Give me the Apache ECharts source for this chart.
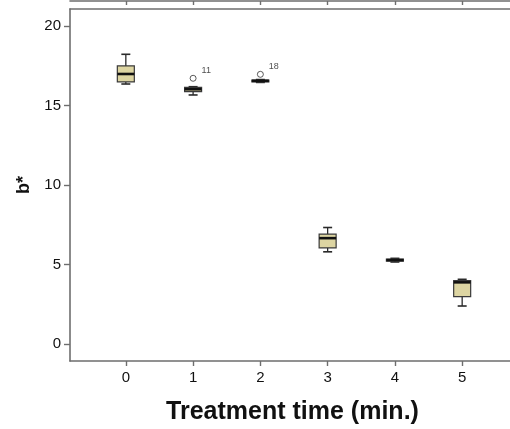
<!DOCTYPE html>
<html><head><meta charset="utf-8">
<script src="https://cdn.jsdelivr.net/npm/echarts@6/dist/echarts.min.js"></script>
<style>html,body{margin:0;padding:0;background:#fff}#c{width:510px;height:429px}</style>
</head><body><div id="c"></div>
<script>
var categories = [0, 1, 2, 3, 4, 5];
var mins    = [16.35, 15.66, 16.45, 5.79, 5.15, 2.38];
var q1s     = [16.48, 15.87, 16.49, 6.04, 5.21, 2.97];
var medians = [16.98, 16.02, 16.55, 6.65, 5.27, 3.87];
var q3s     = [17.49, 16.14, 16.60, 6.90, 5.33, 3.98];
var maxs    = [18.22, 16.18, 16.63, 7.32, 5.38, 4.06];
var outlierX = [1, 2];
var outlierY = [16.71, 16.96];
var outlierLabels = ['11', '18'];
var yTicks = [0, 5, 10, 15, 20];

var boxData = categories.map(function (c, i) {
  return [c, mins[i], q1s[i], medians[i], q3s[i], maxs[i]];
});
var outData = outlierX.map(function (x, i) { return [x, outlierY[i], outlierLabels[i]]; });

var chart = echarts.init(document.getElementById('c'), null, {renderer: 'canvas'});
var axisCol = '#6e6e6e';
var txtCol = '#111';
chart.setOption({
  animation: false,
  grid: {left: 70, top: 9, width: 448, height: 352, containLabel: false, outerBoundsMode: 'none'},
  xAxis: [{
    type: 'value', min: -0.83, max: 5.83, position: 'bottom',
    splitLine: {show: false},
    axisLine: {show: true, onZero: false, lineStyle: {color: axisCol, width: 1.6}},
    axisTick: {show: true, customValues: categories, length: 5, lineStyle: {color: axisCol, width: 1.4}},
    axisLabel: {customValues: categories, color: txtCol, fontSize: 15, fontFamily: 'Liberation Sans, Arial', margin: 9},
    name: 'Treatment time (min.)', nameLocation: 'middle', nameGap: 39,
    nameTextStyle: {fontSize: 25, fontWeight: 'bold', color: '#111', fontFamily: 'Liberation Sans, Arial', padding: [0, 3, 0, 0]}
  }, {
    type: 'value', min: -0.83, max: 5.83, position: 'top',
    splitLine: {show: false},
    axisLine: {show: true, onZero: false, lineStyle: {color: axisCol, width: 1.6}},
    axisTick: {show: false}, axisLabel: {show: false}
  }, {
    type: 'value', min: -0.83, max: 5.83, position: 'top', offset: 8,
    splitLine: {show: false},
    axisLine: {show: true, onZero: false, lineStyle: {color: axisCol, width: 1.6}},
    axisTick: {show: true, inside: true, customValues: categories, length: 4, lineStyle: {color: axisCol, width: 1.4}},
    axisLabel: {show: false}
  }],
  yAxis: [{
    type: 'value', min: -1.08, max: 21.07,
    splitLine: {show: false},
    axisLine: {show: true, onZero: false, lineStyle: {color: axisCol, width: 1.6}},
    axisTick: {show: true, customValues: yTicks, length: 6, lineStyle: {color: axisCol, width: 1.4}},
    axisLabel: {customValues: yTicks, color: txtCol, fontSize: 15, fontFamily: 'Liberation Sans, Arial', margin: 9},
    name: 'b*', nameLocation: 'middle', nameGap: 33, nameRotate: 90,
    nameTextStyle: {fontSize: 18, fontWeight: 'bold', color: '#111', fontFamily: 'Liberation Sans, Arial'}
  }],
  series: [{
    type: 'custom',
    xAxisIndex: 0, yAxisIndex: 0,
    data: boxData,
    renderItem: function (params, api) {
      var x = api.value(0);
      var pMin = api.coord([x, api.value(1)]);
      var pQ1 = api.coord([x, api.value(2)]);
      var pMed = api.coord([x, api.value(3)]);
      var pQ3 = api.coord([x, api.value(4)]);
      var pMax = api.coord([x, api.value(5)]);
      var cx = pMed[0], bw = 17, cw = 9;
      var stroke = {stroke: '#2a2a2a', lineWidth: 1.3};
      return {
        type: 'group',
        children: [
          {type: 'line', shape: {x1: cx, y1: pMax[1], x2: cx, y2: pQ3[1]}, style: stroke},
          {type: 'line', shape: {x1: cx, y1: pQ1[1], x2: cx, y2: pMin[1]}, style: stroke},
          {type: 'line', shape: {x1: cx - cw / 2, y1: pMax[1], x2: cx + cw / 2, y2: pMax[1]}, style: {stroke: '#2a2a2a', lineWidth: 1.6}},
          {type: 'line', shape: {x1: cx - cw / 2, y1: pMin[1], x2: cx + cw / 2, y2: pMin[1]}, style: {stroke: '#2a2a2a', lineWidth: 1.6}},
          {type: 'rect', shape: {x: cx - bw / 2, y: pQ3[1], width: bw, height: Math.max(pQ1[1] - pQ3[1], 1)},
            style: {fill: '#ddd5a2', stroke: '#3a3a3a', lineWidth: 1.2}},
          {type: 'line', shape: {x1: cx - bw / 2, y1: pMed[1], x2: cx + bw / 2, y2: pMed[1]}, style: {stroke: '#111', lineWidth: 2.6}}
        ]
      };
    },
    z: 3
  }, {
    type: 'scatter',
    xAxisIndex: 0, yAxisIndex: 0,
    data: outData,
    symbol: 'circle', symbolSize: 6,
    itemStyle: {color: '#fff', borderColor: '#333', borderWidth: 1},
    label: {show: true, formatter: function (p) { return p.data[2]; }, position: 'right', offset: [0, -8],
      fontSize: 9, color: '#222', fontFamily: 'Liberation Sans, Arial'},
    z: 4
  }]
});
</script>
</body></html>
